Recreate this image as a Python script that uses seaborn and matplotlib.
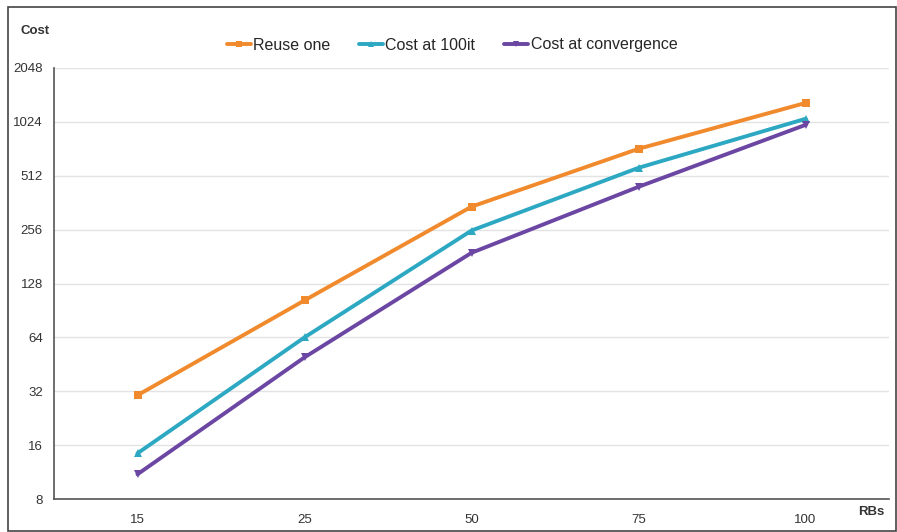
import matplotlib
matplotlib.use("Agg")
import matplotlib.pyplot as plt
from matplotlib.patches import Rectangle
from matplotlib.ticker import FixedLocator, FixedFormatter
from matplotlib.lines import Line2D
import seaborn as sns
import pandas as pd
import numpy as np

categories = ["15", "25", "50", "75", "100"]
reuse_one = [30.4, 103, 344, 724, 1306]
cost_100it = [14.4, 64, 253, 567, 1065]
cost_conv = [11.0, 49.5, 190, 444, 985]
series_names = ["Reuse one", "Cost at 100it", "Cost at convergence"]
y_ticks = [8, 16, 32, 64, 128, 256, 512, 1024, 2048]

colors = ["#F08A2C", "#2DA8C2", "#6B46A3"]
markers = ["s", "^", "v"]

rows = []
for name, vals in zip(series_names, [reuse_one, cost_100it, cost_conv]):
    for i, v in enumerate(vals):
        rows.append({"pos": i, "value": v, "series": name})
df = pd.DataFrame(rows)

sns.set_style("white")
plt.rcParams["font.family"] = ["Liberation Sans Narrow", "Liberation Sans", "DejaVu Sans"]

fig = plt.figure(figsize=(8.97, 5.32), dpi=100)
ax = fig.add_axes([54/897, 1-499/532, (889-54)/897, (499-68)/532])

sns.lineplot(data=df, x="pos", y="value", hue="series", style="series",
             hue_order=series_names, palette=colors, markers=markers, dashes=False,
             linewidth=2.8, markersize=5.5, markeredgewidth=0, ax=ax, legend=False)

ax.set_yscale("log", base=2)
ax.set_ylim(8, 2048)
ax.set_xlim(-0.5, 4.5)
ax.yaxis.set_major_locator(FixedLocator(y_ticks))
ax.yaxis.set_major_formatter(FixedFormatter([str(t) for t in y_ticks]))
ax.yaxis.set_minor_locator(FixedLocator([]))
ax.set_xticks(range(len(categories)))
ax.set_xticklabels(categories)
ax.set_xticks(np.arange(0.5, len(categories), 1.0), minor=True)
ax.tick_params(axis="x", which="major", length=0, pad=11, labelsize=9.5, labelcolor="#333333")
ax.tick_params(axis="x", which="minor", length=4, direction="in", color="#555555", width=1)
ax.tick_params(axis="y", which="major", length=4, direction="in", color="#555555", width=1,
               labelsize=9.5, labelcolor="#333333", pad=8)
ax.grid(axis="y", color="#e3e3e3", linewidth=1)
ax.set_axisbelow(True)
for s in ["top", "right"]:
    ax.spines[s].set_visible(False)
for s in ["left", "bottom"]:
    ax.spines[s].set_color("#555555")
    ax.spines[s].set_linewidth(1.2)
ax.set_xlabel("")
ax.set_ylabel("")

handles = [Line2D([0], [0], color=c, marker=m, lw=2.8, markersize=5, markeredgewidth=0)
           for c, m in zip(colors, markers)]
fig.legend(handles, series_names, loc="center", bbox_to_anchor=(452/897, 1-45/532),
           ncol=3, frameon=False, fontsize=11.5, handlelength=1.5, handletextpad=0.15,
           columnspacing=1.8)

fig.text(20/897, 1-31/532, "Cost", fontsize=9.5, fontweight="bold", color="#333333",
         va="center", ha="left")
fig.text(858/897, 1-512/532, "RBs", fontsize=9.5, fontweight="bold", color="#333333",
         va="center", ha="left")

fig.patches.append(Rectangle((8/897, 1/532), (896-8)/897, (525-1)/532, transform=fig.transFigure,
                             fill=False, edgecolor="#444444", linewidth=1.2))

fig.savefig("out.png", dpi=100)
